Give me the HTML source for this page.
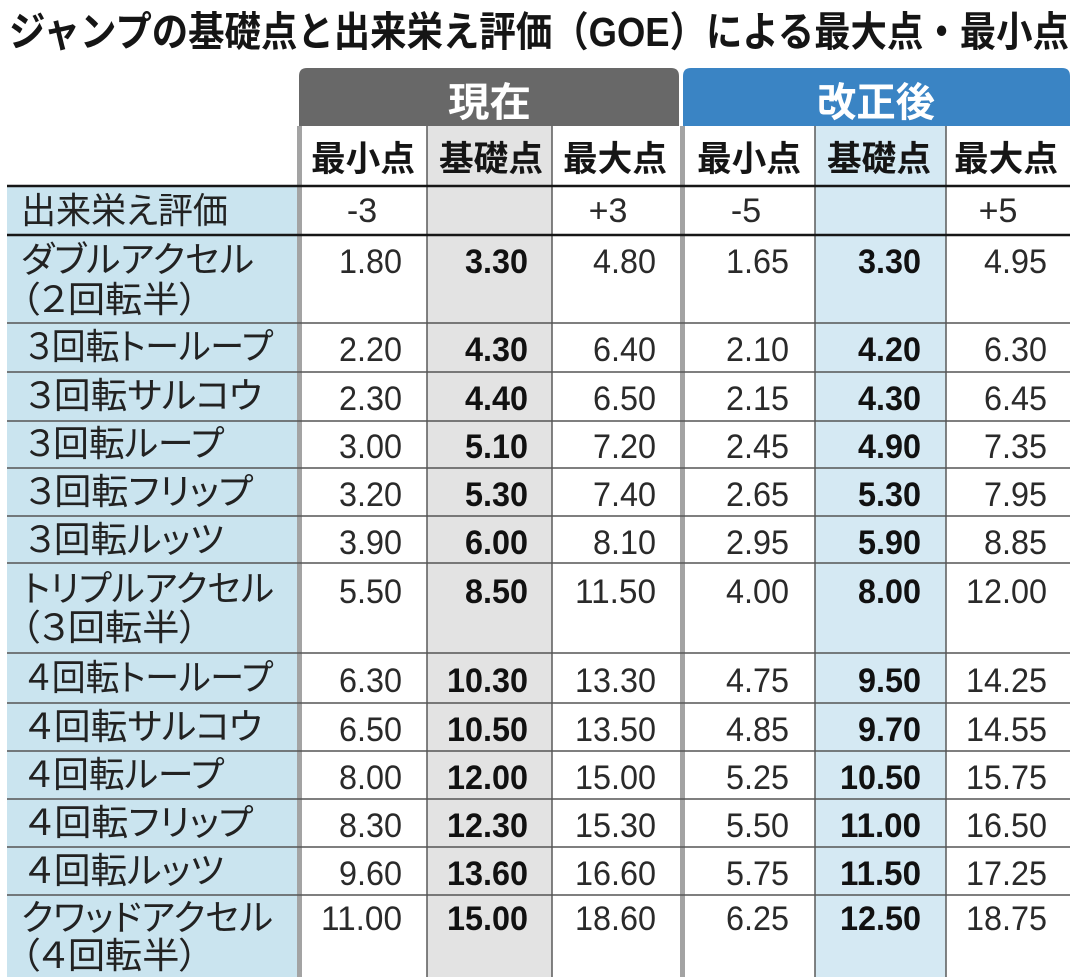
<!DOCTYPE html>
<html>
<head>
<meta charset="utf-8">
<style>
html,body{margin:0;padding:0;background:#fff;}
svg{display:block;}
.t{font-family:"Liberation Sans","Noto Sans CJK JP",sans-serif;font-weight:bold;font-size:41px;fill:#151515;}
.h{font-family:"Liberation Sans","Noto Sans CJK JP",sans-serif;font-weight:bold;font-size:35px;fill:#151515;}
.w{font-family:"Liberation Sans","Noto Sans CJK JP",sans-serif;font-weight:bold;font-size:40px;fill:#ffffff;}
.l{font-family:"Liberation Sans","Noto Sans CJK JP",sans-serif;font-size:36px;fill:#222;font-feature-settings:"palt";}
.n{font-family:"Liberation Sans",sans-serif;font-size:34px;fill:#2a2a2a;}
.b{font-family:"Liberation Sans",sans-serif;font-size:34px;font-weight:bold;fill:#111;}
</style>
</head>
<body>
<svg width="1080" height="977" viewBox="0 0 1080 977" xmlns="http://www.w3.org/2000/svg">
<rect x="0" y="0" width="1080" height="977" fill="#fff"/>

<!-- title -->
<text class="t" x="9" y="46" textLength="1060" lengthAdjust="spacingAndGlyphs">ジャンプの基礎点と出来栄え評価（GOE）による最大点・最小点</text>

<!-- header boxes -->
<path d="M299,126 L299,76 Q299,68 307,68 L671,68 Q679,68 679,76 L679,126 Z" fill="#686868"/>
<path d="M683,126 L683,76 Q683,68 691,68 L1062,68 Q1070,68 1070,76 L1070,126 Z" fill="#3a84c4"/>
<text class="w" x="448" y="116" textLength="83" lengthAdjust="spacingAndGlyphs">現在</text>
<text class="w" x="817" y="116" textLength="118" lengthAdjust="spacingAndGlyphs">改正後</text>

<!-- column fills -->
<rect x="7" y="186" width="290" height="791" fill="#cae4ef"/>
<rect x="427" y="126" width="125" height="851" fill="#e3e3e3"/>
<rect x="815" y="126" width="131" height="851" fill="#d5e9f3"/>

<!-- dotted group borders -->
<rect x="297" y="126" width="5" height="851" fill="#a3a3a3"/>
<rect x="680" y="126" width="5" height="851" fill="#a3a3a3"/>

<!-- thin column lines -->
<g stroke="#5a5a5a" stroke-width="1.5">
<line x1="427" y1="126" x2="427" y2="977"/>
<line x1="552" y1="126" x2="552" y2="977"/>
<line x1="815" y1="126" x2="815" y2="977"/>
<line x1="946" y1="126" x2="946" y2="977"/>
</g>

<!-- row lines -->
<g stroke="#555" stroke-width="1.5">
<line x1="7" y1="323" x2="1070" y2="323"/>
<line x1="7" y1="372" x2="1070" y2="372"/>
<line x1="7" y1="421" x2="1070" y2="421"/>
<line x1="7" y1="468" x2="1070" y2="468"/>
<line x1="7" y1="516" x2="1070" y2="516"/>
<line x1="7" y1="563" x2="1070" y2="563"/>
<line x1="7" y1="653" x2="1070" y2="653"/>
<line x1="7" y1="703" x2="1070" y2="703"/>
<line x1="7" y1="751" x2="1070" y2="751"/>
<line x1="7" y1="799" x2="1070" y2="799"/>
<line x1="7" y1="847" x2="1070" y2="847"/>
<line x1="7" y1="895" x2="1070" y2="895"/>
</g>
<g stroke="#161616" stroke-width="2.6">
<line x1="7" y1="186" x2="1070" y2="186"/>
<line x1="7" y1="235" x2="1070" y2="235"/>
</g>

<!-- sub headers -->
<text class="h" x="311" y="171" textLength="104" lengthAdjust="spacingAndGlyphs">最小点</text>
<text class="h" x="439" y="171" textLength="104" lengthAdjust="spacingAndGlyphs">基礎点</text>
<text class="h" x="563" y="171" textLength="104" lengthAdjust="spacingAndGlyphs">最大点</text>
<text class="h" x="697" y="171" textLength="104" lengthAdjust="spacingAndGlyphs">最小点</text>
<text class="h" x="827" y="171" textLength="104" lengthAdjust="spacingAndGlyphs">基礎点</text>
<text class="h" x="954" y="171" textLength="104" lengthAdjust="spacingAndGlyphs">最大点</text>

<!-- GOE row -->
<text class="l" x="21" y="223" textLength="207" lengthAdjust="spacingAndGlyphs">出来栄え評価</text>
<text class="n" x="362" y="222" text-anchor="middle">-3</text>
<text class="n" x="608" y="222" text-anchor="middle">+3</text>
<text class="n" x="746" y="222" text-anchor="middle">-5</text>
<text class="n" x="998" y="222" text-anchor="middle">+5</text>

<!-- labels -->
<text class="l" x="21" y="272" textLength="233" lengthAdjust="spacingAndGlyphs">ダブルアクセル</text>
<text class="l" x="21" y="312" textLength="177" lengthAdjust="spacingAndGlyphs">（２回転半）</text>
<text class="l" x="26" y="359" textLength="247" lengthAdjust="spacingAndGlyphs">３回転トーループ</text>
<text class="l" x="26" y="408" textLength="236" lengthAdjust="spacingAndGlyphs">３回転サルコウ</text>
<text class="l" x="26" y="456" textLength="198" lengthAdjust="spacingAndGlyphs">３回転ループ</text>
<text class="l" x="26" y="504" textLength="227" lengthAdjust="spacingAndGlyphs">３回転フリップ</text>
<text class="l" x="26" y="552" textLength="198" lengthAdjust="spacingAndGlyphs">３回転ルッツ</text>
<text class="l" x="23" y="601" textLength="251" lengthAdjust="spacingAndGlyphs">トリプルアクセル</text>
<text class="l" x="21" y="640" textLength="177" lengthAdjust="spacingAndGlyphs">（３回転半）</text>
<text class="l" x="26" y="690" textLength="247" lengthAdjust="spacingAndGlyphs">４回転トーループ</text>
<text class="l" x="26" y="739" textLength="236" lengthAdjust="spacingAndGlyphs">４回転サルコウ</text>
<text class="l" x="26" y="787" textLength="198" lengthAdjust="spacingAndGlyphs">４回転ループ</text>
<text class="l" x="26" y="835" textLength="227" lengthAdjust="spacingAndGlyphs">４回転フリップ</text>
<text class="l" x="26" y="883" textLength="198" lengthAdjust="spacingAndGlyphs">４回転ルッツ</text>
<text class="l" x="21" y="930" textLength="252" lengthAdjust="spacingAndGlyphs">クワッドアクセル</text>
<text class="l" x="21" y="968" textLength="177" lengthAdjust="spacingAndGlyphs">（４回転半）</text>

<!-- numbers -->
<g>
<text class="n" x="339" y="273" textLength="63" lengthAdjust="spacingAndGlyphs">1.80</text>
<text class="b" x="465" y="273" textLength="63" lengthAdjust="spacingAndGlyphs">3.30</text>
<text class="n" x="593" y="273" textLength="63" lengthAdjust="spacingAndGlyphs">4.80</text>
<text class="n" x="726" y="273" textLength="63" lengthAdjust="spacingAndGlyphs">1.65</text>
<text class="b" x="858" y="273" textLength="63" lengthAdjust="spacingAndGlyphs">3.30</text>
<text class="n" x="984" y="273" textLength="63" lengthAdjust="spacingAndGlyphs">4.95</text>

<text class="n" x="339" y="361" textLength="63" lengthAdjust="spacingAndGlyphs">2.20</text>
<text class="b" x="465" y="361" textLength="63" lengthAdjust="spacingAndGlyphs">4.30</text>
<text class="n" x="593" y="361" textLength="63" lengthAdjust="spacingAndGlyphs">6.40</text>
<text class="n" x="726" y="361" textLength="63" lengthAdjust="spacingAndGlyphs">2.10</text>
<text class="b" x="858" y="361" textLength="63" lengthAdjust="spacingAndGlyphs">4.20</text>
<text class="n" x="984" y="361" textLength="63" lengthAdjust="spacingAndGlyphs">6.30</text>

<text class="n" x="339" y="410" textLength="63" lengthAdjust="spacingAndGlyphs">2.30</text>
<text class="b" x="465" y="410" textLength="63" lengthAdjust="spacingAndGlyphs">4.40</text>
<text class="n" x="593" y="410" textLength="63" lengthAdjust="spacingAndGlyphs">6.50</text>
<text class="n" x="726" y="410" textLength="63" lengthAdjust="spacingAndGlyphs">2.15</text>
<text class="b" x="858" y="410" textLength="63" lengthAdjust="spacingAndGlyphs">4.30</text>
<text class="n" x="984" y="410" textLength="63" lengthAdjust="spacingAndGlyphs">6.45</text>

<text class="n" x="339" y="458" textLength="63" lengthAdjust="spacingAndGlyphs">3.00</text>
<text class="b" x="465" y="458" textLength="63" lengthAdjust="spacingAndGlyphs">5.10</text>
<text class="n" x="593" y="458" textLength="63" lengthAdjust="spacingAndGlyphs">7.20</text>
<text class="n" x="726" y="458" textLength="63" lengthAdjust="spacingAndGlyphs">2.45</text>
<text class="b" x="858" y="458" textLength="63" lengthAdjust="spacingAndGlyphs">4.90</text>
<text class="n" x="984" y="458" textLength="63" lengthAdjust="spacingAndGlyphs">7.35</text>

<text class="n" x="339" y="506" textLength="63" lengthAdjust="spacingAndGlyphs">3.20</text>
<text class="b" x="465" y="506" textLength="63" lengthAdjust="spacingAndGlyphs">5.30</text>
<text class="n" x="593" y="506" textLength="63" lengthAdjust="spacingAndGlyphs">7.40</text>
<text class="n" x="726" y="506" textLength="63" lengthAdjust="spacingAndGlyphs">2.65</text>
<text class="b" x="858" y="506" textLength="63" lengthAdjust="spacingAndGlyphs">5.30</text>
<text class="n" x="984" y="506" textLength="63" lengthAdjust="spacingAndGlyphs">7.95</text>

<text class="n" x="339" y="554" textLength="63" lengthAdjust="spacingAndGlyphs">3.90</text>
<text class="b" x="465" y="554" textLength="63" lengthAdjust="spacingAndGlyphs">6.00</text>
<text class="n" x="593" y="554" textLength="63" lengthAdjust="spacingAndGlyphs">8.10</text>
<text class="n" x="726" y="554" textLength="63" lengthAdjust="spacingAndGlyphs">2.95</text>
<text class="b" x="858" y="554" textLength="63" lengthAdjust="spacingAndGlyphs">5.90</text>
<text class="n" x="984" y="554" textLength="63" lengthAdjust="spacingAndGlyphs">8.85</text>

<text class="n" x="339" y="603" textLength="63" lengthAdjust="spacingAndGlyphs">5.50</text>
<text class="b" x="465" y="603" textLength="63" lengthAdjust="spacingAndGlyphs">8.50</text>
<text class="n" x="575" y="603" textLength="81" lengthAdjust="spacingAndGlyphs">11.50</text>
<text class="n" x="726" y="603" textLength="63" lengthAdjust="spacingAndGlyphs">4.00</text>
<text class="b" x="858" y="603" textLength="63" lengthAdjust="spacingAndGlyphs">8.00</text>
<text class="n" x="966" y="603" textLength="81" lengthAdjust="spacingAndGlyphs">12.00</text>

<text class="n" x="339" y="692" textLength="63" lengthAdjust="spacingAndGlyphs">6.30</text>
<text class="b" x="447" y="692" textLength="81" lengthAdjust="spacingAndGlyphs">10.30</text>
<text class="n" x="575" y="692" textLength="81" lengthAdjust="spacingAndGlyphs">13.30</text>
<text class="n" x="726" y="692" textLength="63" lengthAdjust="spacingAndGlyphs">4.75</text>
<text class="b" x="858" y="692" textLength="63" lengthAdjust="spacingAndGlyphs">9.50</text>
<text class="n" x="966" y="692" textLength="81" lengthAdjust="spacingAndGlyphs">14.25</text>

<text class="n" x="339" y="741" textLength="63" lengthAdjust="spacingAndGlyphs">6.50</text>
<text class="b" x="447" y="741" textLength="81" lengthAdjust="spacingAndGlyphs">10.50</text>
<text class="n" x="575" y="741" textLength="81" lengthAdjust="spacingAndGlyphs">13.50</text>
<text class="n" x="726" y="741" textLength="63" lengthAdjust="spacingAndGlyphs">4.85</text>
<text class="b" x="858" y="741" textLength="63" lengthAdjust="spacingAndGlyphs">9.70</text>
<text class="n" x="966" y="741" textLength="81" lengthAdjust="spacingAndGlyphs">14.55</text>

<text class="n" x="339" y="789" textLength="63" lengthAdjust="spacingAndGlyphs">8.00</text>
<text class="b" x="447" y="789" textLength="81" lengthAdjust="spacingAndGlyphs">12.00</text>
<text class="n" x="575" y="789" textLength="81" lengthAdjust="spacingAndGlyphs">15.00</text>
<text class="n" x="726" y="789" textLength="63" lengthAdjust="spacingAndGlyphs">5.25</text>
<text class="b" x="840" y="789" textLength="81" lengthAdjust="spacingAndGlyphs">10.50</text>
<text class="n" x="966" y="789" textLength="81" lengthAdjust="spacingAndGlyphs">15.75</text>

<text class="n" x="339" y="837" textLength="63" lengthAdjust="spacingAndGlyphs">8.30</text>
<text class="b" x="447" y="837" textLength="81" lengthAdjust="spacingAndGlyphs">12.30</text>
<text class="n" x="575" y="837" textLength="81" lengthAdjust="spacingAndGlyphs">15.30</text>
<text class="n" x="726" y="837" textLength="63" lengthAdjust="spacingAndGlyphs">5.50</text>
<text class="b" x="840" y="837" textLength="81" lengthAdjust="spacingAndGlyphs">11.00</text>
<text class="n" x="966" y="837" textLength="81" lengthAdjust="spacingAndGlyphs">16.50</text>

<text class="n" x="339" y="885" textLength="63" lengthAdjust="spacingAndGlyphs">9.60</text>
<text class="b" x="447" y="885" textLength="81" lengthAdjust="spacingAndGlyphs">13.60</text>
<text class="n" x="575" y="885" textLength="81" lengthAdjust="spacingAndGlyphs">16.60</text>
<text class="n" x="726" y="885" textLength="63" lengthAdjust="spacingAndGlyphs">5.75</text>
<text class="b" x="840" y="885" textLength="81" lengthAdjust="spacingAndGlyphs">11.50</text>
<text class="n" x="966" y="885" textLength="81" lengthAdjust="spacingAndGlyphs">17.25</text>

<text class="n" x="321" y="930" textLength="81" lengthAdjust="spacingAndGlyphs">11.00</text>
<text class="b" x="447" y="930" textLength="81" lengthAdjust="spacingAndGlyphs">15.00</text>
<text class="n" x="575" y="930" textLength="81" lengthAdjust="spacingAndGlyphs">18.60</text>
<text class="n" x="726" y="930" textLength="63" lengthAdjust="spacingAndGlyphs">6.25</text>
<text class="b" x="840" y="930" textLength="81" lengthAdjust="spacingAndGlyphs">12.50</text>
<text class="n" x="966" y="930" textLength="81" lengthAdjust="spacingAndGlyphs">18.75</text>
</g>
</svg>
</body>
</html>
